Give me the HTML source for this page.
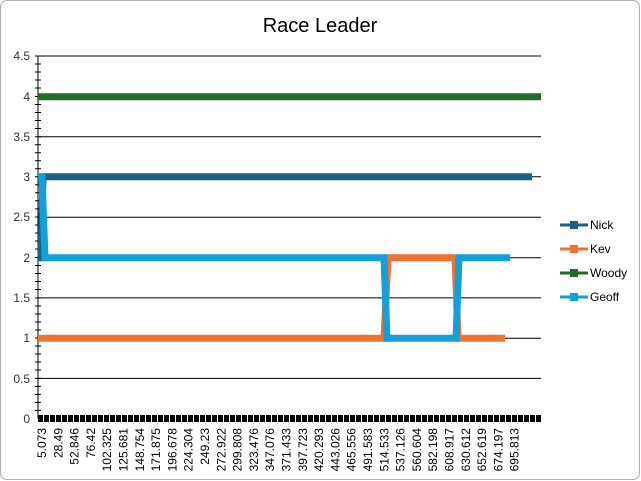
<!DOCTYPE html>
<html><head><style>body{margin:0;background:#fff}svg{display:block}text{font-family:"Liberation Sans",sans-serif}</style></head><body>
<svg width="641" height="481" xmlns="http://www.w3.org/2000/svg">
<rect x="0.5" y="0.5" width="639" height="479" rx="6" fill="#fff" stroke="#b0b0b0"/>
<text x="320" y="32" font-size="20" text-anchor="middle" fill="#000">Race Leader</text>
<g stroke="#000" stroke-width="1">
<line x1="38" y1="56" x2="541" y2="56"/><line x1="38" y1="96.7" x2="541" y2="96.7"/>
<line x1="38" y1="136.7" x2="541" y2="136.7"/><line x1="38" y1="176.7" x2="541" y2="176.7"/>
<line x1="38" y1="217.2" x2="541" y2="217.2"/><line x1="38" y1="257.7" x2="541" y2="257.7"/>
<line x1="38" y1="297.9" x2="541" y2="297.9"/><line x1="38" y1="338.2" x2="541" y2="338.2"/>
<line x1="38" y1="378.4" x2="541" y2="378.4"/>
<line x1="38" y1="56" x2="38" y2="419"/>
<path d="M35 56h6M35 64h6M35 72h6M35 80h6M35 88h6M35 96.5h6M35 104.5h6M35 112.5h6M35 120.5h6M35 128.5h6M35 136.7h6M35 144.7h6M35 152.7h6M35 160.7h6M35 168.7h6M35 176.7h6M35 184.7h6M35 192.8h6M35 200.8h6M35 208.9h6M35 217h6M35 225h6M35 233h6M35 241h6M35 249h6M35 257.5h6M35 265.5h6M35 273.5h6M35 281.5h6M35 289.5h6M35 298h6M35 306h6M35 314h6M35 322h6M35 330h6M35 338h6M35 346h6M35 354h6M35 362h6M35 370h6M35 378.4h6M35 386.4h6M35 394.4h6M35 402.4h6M35 410.4h6"/>
</g>
<line x1="38" y1="418.5" x2="541" y2="418.5" stroke="#000" stroke-width="7" stroke-dasharray="5 1"/>
<g font-size="12" fill="#333" text-anchor="end">
<text x="30" y="60">4.5</text><text x="30" y="101">4</text><text x="30" y="141">3.5</text><text x="30" y="181">3</text><text x="30" y="221">2.5</text><text x="30" y="262">2</text><text x="30" y="302">1.5</text><text x="30" y="342">1</text><text x="30" y="383">0.5</text><text x="30" y="423">0</text>
</g>
<g font-size="12" fill="#000" text-anchor="end">
<text transform="translate(46,428) rotate(-90)">5.073</text>
<text transform="translate(62.3,428) rotate(-90)">28.49</text>
<text transform="translate(78.6,428) rotate(-90)">52.846</text>
<text transform="translate(94.9,428) rotate(-90)">76.42</text>
<text transform="translate(111.2,428) rotate(-90)">102.325</text>
<text transform="translate(127.5,428) rotate(-90)">125.681</text>
<text transform="translate(143.8,428) rotate(-90)">148.754</text>
<text transform="translate(160.1,428) rotate(-90)">171.875</text>
<text transform="translate(176.4,428) rotate(-90)">196.678</text>
<text transform="translate(192.7,428) rotate(-90)">224.304</text>
<text transform="translate(209,428) rotate(-90)">249.23</text>
<text transform="translate(225.3,428) rotate(-90)">272.922</text>
<text transform="translate(241.6,428) rotate(-90)">299.808</text>
<text transform="translate(257.9,428) rotate(-90)">323.476</text>
<text transform="translate(274.2,428) rotate(-90)">347.076</text>
<text transform="translate(290.5,428) rotate(-90)">371.433</text>
<text transform="translate(306.8,428) rotate(-90)">397.723</text>
<text transform="translate(323.1,428) rotate(-90)">420.293</text>
<text transform="translate(339.4,428) rotate(-90)">443.026</text>
<text transform="translate(355.7,428) rotate(-90)">465.556</text>
<text transform="translate(372,428) rotate(-90)">491.583</text>
<text transform="translate(388.3,428) rotate(-90)">514.533</text>
<text transform="translate(404.6,428) rotate(-90)">537.126</text>
<text transform="translate(420.9,428) rotate(-90)">560.604</text>
<text transform="translate(437.2,428) rotate(-90)">582.198</text>
<text transform="translate(453.5,428) rotate(-90)">608.917</text>
<text transform="translate(469.8,428) rotate(-90)">630.612</text>
<text transform="translate(486.1,428) rotate(-90)">652.619</text>
<text transform="translate(502.4,428) rotate(-90)">674.197</text>
<text transform="translate(518.7,428) rotate(-90)">695.813</text>
</g>
<g fill="none" stroke-width="7" stroke-linejoin="miter">
<polyline points="38,96.7 541,96.7" stroke="#1e6b2a"/>
<polyline points="38,257.7 41,257.7 43,176.7 532,176.7" stroke="#1a5f85"/>
<polyline points="38,338.2 384,338.2 388,257.7 455,257.7 458,338.2 505,338.2" stroke="#ed7430"/>
<polyline points="38,176.7 42,176.7 45,257.7 384,257.7 387,338.2 456,338.2 459,257.7 510,257.7" stroke="#139fd8"/>
</g>
<g stroke-width="3" font-size="12" fill="#000">
<line x1="560" y1="225" x2="588" y2="225" stroke="#1a5f85"/><rect x="570" y="221" width="8" height="8" fill="#1a5f85"/><text x="590" y="229">Nick</text>
<line x1="560" y1="249" x2="588" y2="249" stroke="#ed7430"/><rect x="570" y="245" width="8" height="8" fill="#ed7430"/><text x="590" y="253">Kev</text>
<line x1="560" y1="273" x2="588" y2="273" stroke="#1e6b2a"/><rect x="570" y="269" width="8" height="8" fill="#1e6b2a"/><text x="590" y="277">Woody</text>
<line x1="560" y1="297" x2="588" y2="297" stroke="#139fd8"/><rect x="570" y="293" width="8" height="8" fill="#139fd8"/><text x="590" y="301">Geoff</text>
</g>
</svg>
</body></html>
